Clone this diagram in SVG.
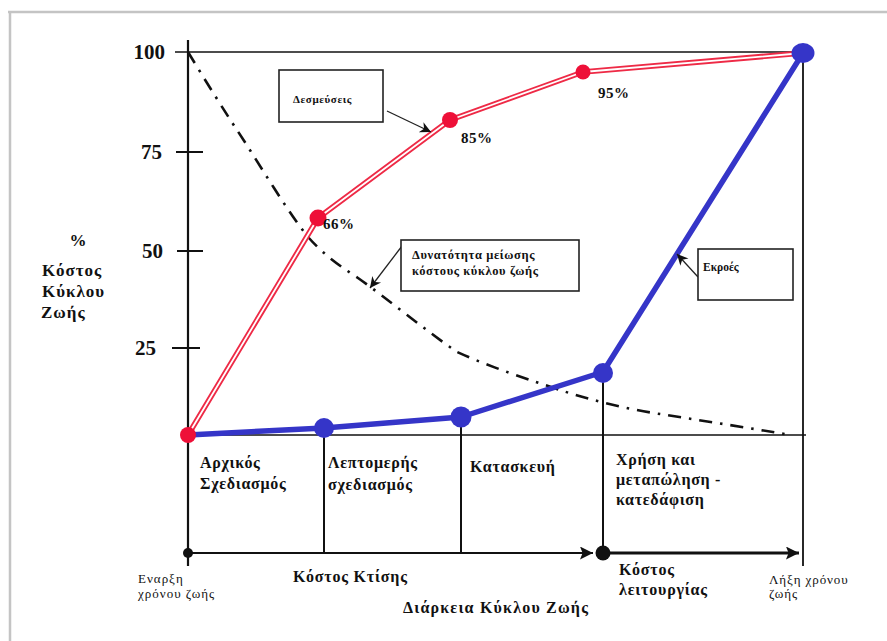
<svg xmlns="http://www.w3.org/2000/svg" width="887" height="641" viewBox="0 0 887 641" font-family="'Liberation Serif', 'Times New Roman', 'DejaVu Serif', serif">
  <style>
    .ser { font-family: "Liberation Serif", "Times New Roman", "DejaVu Serif", serif; fill: #111; }
    .b { font-weight: bold; }
    .axis { stroke: #111; fill: none; }
    .box { fill: #fff; stroke: #222; stroke-width: 1.6; }
    .call { stroke: #222; stroke-width: 1.3; fill: none; }
  </style>
  <defs>
    <marker id="tip" viewBox="0 0 10 10" refX="10" refY="5" markerWidth="15" markerHeight="11" markerUnits="userSpaceOnUse" orient="auto">
      <path d="M0,0 L10,5 L0,10 L3,5 z" fill="#111"/>
    </marker>
    <marker id="tlTip" viewBox="0 0 10 10" refX="10" refY="5" markerWidth="18" markerHeight="13" markerUnits="userSpaceOnUse" orient="auto">
      <path d="M0,0 L10,5 L0,10 L2,5 z" fill="#111"/>
    </marker>
  </defs>

  <rect width="887" height="641" fill="#fff"/>
  <!-- page frame -->
  <path d="M8,12 H887 M10,12 V641" stroke="#c4c4c4" stroke-width="2.5" fill="none"/>

  <!-- axes and grid -->
  <g id="axes">
    <path class="axis" stroke-width="2.2" d="M188,40 V566"/>
    <path class="axis" stroke-width="1.6" d="M175,52 H803"/>
    <path class="axis" stroke-width="1.8" d="M176,152 H203 M177,251 H203 M172,348 H200"/>
    <path class="axis" stroke-width="1.6" d="M182,435 H806"/>
    <path class="axis" stroke-width="1.8" d="M803,52 V566"/>
    <path class="axis" stroke-width="2" d="M324,435 V553 M461,417 V553 M603,372 V553"/>
    <text class="ser b" x="165" y="59" font-size="21" text-anchor="end">100</text>
    <text class="ser b" x="162" y="159" font-size="21" text-anchor="end">75</text>
    <text class="ser b" x="163" y="258" font-size="21" text-anchor="end">50</text>
    <text class="ser b" x="156" y="355" font-size="21" text-anchor="end">25</text>
  </g>

  <g id="y-title" class="ser b" font-size="17">
    <text x="78" y="246" text-anchor="middle">%</text>
    <text x="42" y="276" letter-spacing="1">Κόστος</text>
    <text x="42" y="297" letter-spacing="1">Κύκλου</text>
    <text x="41" y="318" letter-spacing="1">Ζωής</text>
  </g>

  <!-- life-cycle timeline -->
  <g id="timeline">
    <path d="M188,553 H593" stroke="#111" stroke-width="1.8" fill="none" marker-end="url(#tlTip)"/>
    <path d="M603,553 H799" stroke="#111" stroke-width="3.2" fill="none" marker-end="url(#tlTip)"/>
    <circle cx="188" cy="553" r="5" fill="#111"/>
    <circle cx="603" cy="553" r="7.5" fill="#111"/>
  </g>

  <g id="connectors">
    <!-- reduction-potential curve -->
    <path id="potential" d="M188,52 C205,80 225,112 237,130 C255,157 285,208 308,237 C325,256 340,266 358,278 C385,297 425,330 457,352 C490,367 530,380 560,390 C590,400 630,410 667,415 C710,422 750,428 790,435" fill="none" stroke="#111" stroke-width="2.6" stroke-dasharray="13,8,2.5,8"/>
    <!-- commitments (double red line) -->
    <polyline points="188,435 318,218 450,120 583,72 803,53" fill="none" stroke="#ee2a46" stroke-width="5.5" stroke-linejoin="round"/>
    <polyline points="188,435 318,218 450,120 583,72 803,53" fill="none" stroke="#fff" stroke-width="1.8" stroke-linejoin="round"/>
    <!-- outputs -->
    <polyline points="188,435 324,428 461,417 603,372 803,53" fill="none" stroke="#3535c8" stroke-width="5.5" stroke-linejoin="round"/>
    <!-- callout arrows -->
    <line class="call" x1="387" y1="111" x2="431" y2="132" marker-end="url(#tip)"/>
    <line class="call" x1="402" y1="246" x2="370" y2="288" marker-end="url(#tip)"/>
    <line class="call" x1="698" y1="277" x2="677" y2="254" marker-end="url(#tip)"/>
  </g>

  <g id="red-points" fill="#ee1038">
    <circle cx="188" cy="435" r="8"/>
    <circle cx="318" cy="218" r="8.5"/>
    <circle cx="450" cy="120" r="8"/>
    <circle cx="583" cy="72" r="7.5"/>
  </g>
  <g id="blue-points" fill="#3535c8">
    <circle cx="324" cy="428" r="10"/>
    <circle cx="461" cy="417" r="10.5"/>
    <circle cx="603" cy="373" r="10"/>
    <ellipse cx="803" cy="53" rx="11.5" ry="10"/>
  </g>

  <g id="pct-labels" class="ser b" font-size="15" letter-spacing="0.5">
    <text x="323" y="229">66%</text>
    <text x="461" y="143">85%</text>
    <text x="598" y="98">95%</text>
  </g>

  <g id="note-commitments">
    <rect class="box" x="279" y="70" width="104" height="52"/>
    <text class="ser b" x="293" y="103" font-size="11" letter-spacing="0.6">Δεσμεύσεις</text>
  </g>
  <g id="note-potential">
    <rect class="box" x="401" y="240" width="178" height="51"/>
    <text class="ser b" x="412" y="259" font-size="12.5" letter-spacing="0.6">Δυνατότητα μείωσης</text>
    <text class="ser b" x="412" y="275" font-size="12.5" letter-spacing="0.6">κόστους κύκλου ζωής</text>
  </g>
  <g id="note-outputs">
    <rect class="box" x="698" y="249" width="95" height="51"/>
    <text class="ser b" x="703" y="271" font-size="11.5">Εκροές</text>
  </g>

  <g id="phase-labels" class="ser b" font-size="16" letter-spacing="0.7">
    <text x="200" y="468">Αρχικός</text>
    <text x="200" y="489">Σχεδιασμός</text>
    <text x="328" y="468">Λεπτομερής</text>
    <text x="328" y="490">σχεδιασμός</text>
    <text x="470" y="472">Κατασκευή</text>
    <text x="616" y="465">Χρήση και</text>
    <text x="616" y="485">μεταπώληση -</text>
    <text x="616" y="505">κατεδάφιση</text>
  </g>

  <g id="time-labels" class="ser">
    <text x="138" y="583" font-size="13" letter-spacing="1">Εναρξη</text>
    <text x="138" y="598" font-size="13" letter-spacing="1">χρόνου ζωής</text>
    <text x="769" y="584" font-size="13" letter-spacing="0.9">Λήξη χρόνου</text>
    <text x="769" y="598" font-size="13" letter-spacing="0.9">ζωής</text>
    <text class="b" x="293" y="582" font-size="16" letter-spacing="0.8">Κόστος Κτίσης</text>
    <text class="b" x="619" y="575" font-size="16" letter-spacing="0.8">Κόστος</text>
    <text class="b" x="619" y="595" font-size="16" letter-spacing="0.8">λειτουργίας</text>
    <text class="b" x="403" y="613" font-size="16" letter-spacing="1.2">Διάρκεια Κύκλου Ζωής</text>
  </g>
</svg>
